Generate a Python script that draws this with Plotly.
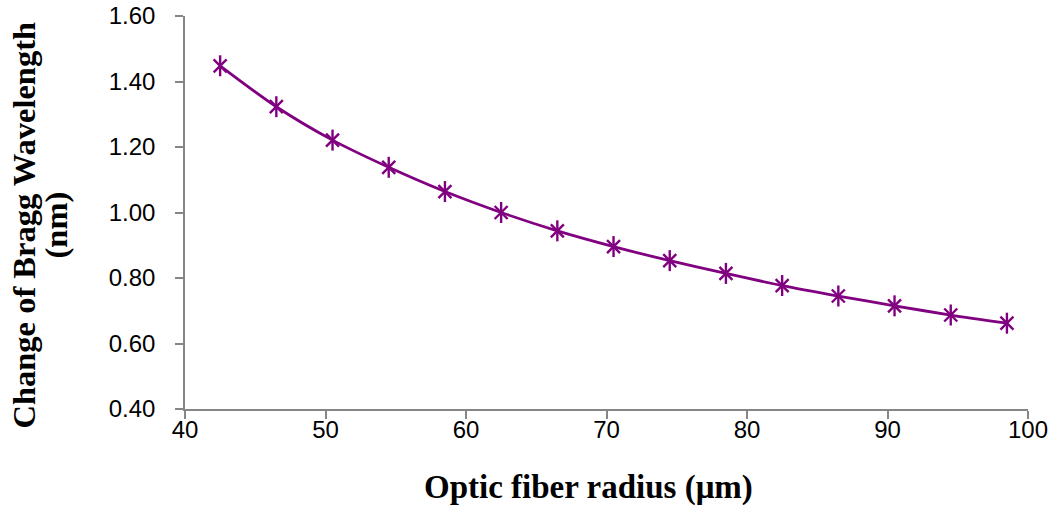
import plotly.graph_objects as go

# Fiber radius (μm) and the resulting Bragg wavelength shift (nm)
radius_um = [42.5, 46.5, 50.5, 54.5, 58.5, 62.5, 66.5, 70.5, 74.5, 78.5,
             82.5, 86.5, 90.5, 94.5, 98.5]
bragg_shift_nm = [1.448, 1.323, 1.221, 1.138, 1.064, 1.000, 0.944, 0.896,
                  0.853, 0.814, 0.777, 0.745, 0.715, 0.687, 0.662]

x_ticks = [40, 50, 60, 70, 80, 90, 100]
y_ticks = [0.40, 0.60, 0.80, 1.00, 1.20, 1.40, 1.60]

x_title = "Optic fiber radius (μm)"
y_title_lines = ["Change of Bragg Wavelength", "(nm)"]

purple = "#800080"
axis_grey = "#868686"

fig = go.Figure()
# Smoothed curve with the diagonal strokes of the star marker
fig.add_trace(
    go.Scatter(
        x=radius_um,
        y=bragg_shift_nm,
        mode="lines+markers",
        line=dict(color=purple, width=2.8, shape="spline", smoothing=0.8),
        marker=dict(symbol="x-thin-open", size=13, color=purple,
                    line=dict(color=purple, width=2.4)),
        showlegend=False,
    )
)
# Vertical stroke completing the six-armed star marker
fig.add_trace(
    go.Scatter(
        x=radius_um,
        y=bragg_shift_nm,
        mode="markers",
        marker=dict(symbol="line-ns-open", size=15, color=purple,
                    line=dict(color=purple, width=2.4)),
        showlegend=False,
        hoverinfo="skip",
    )
)

tick_font = dict(family="Liberation Sans, Arial, sans-serif", size=24, color="#000")
title_font = dict(family="Liberation Serif, Times New Roman, serif", size=33, color="#000")
y_title_font = dict(title_font, size=32.5)

axis_style = dict(
    automargin=False,
    showgrid=False,
    zeroline=False,
    showline=True,
    linecolor=axis_grey,
    linewidth=1.5,
    ticks="outside",
    ticklen=8,
    tickcolor=axis_grey,
    tickwidth=1.5,
    tickfont=tick_font,
)

fig.update_layout(
    width=1054,
    height=512,
    margin=dict(l=185, r=26, t=16, b=103, autoexpand=False),
    paper_bgcolor="white",
    plot_bgcolor="white",
    xaxis=dict(
        range=[40, 100],
        tickvals=x_ticks,
        ticktext=[str(v) for v in x_ticks],
        ticklabelstandoff=-10,
        **axis_style,
    ),
    yaxis=dict(
        range=[0.40, 1.60],
        tickvals=y_ticks,
        ticktext=[f"{v:.2f}" for v in y_ticks],
        ticklabelstandoff=15,
        **axis_style,
    ),
)

# Axis titles, placed as annotations for tight control of the two-line y title
fig.add_annotation(
    text=f"<b>{x_title}</b>", font=title_font, showarrow=False,
    xref="paper", yref="paper", x=0.5, y=0, xanchor="center", yanchor="middle",
    xshift=-18, yshift=-78,
)
for line_text, px_shift in zip(y_title_lines, [-162, -130]):
    fig.add_annotation(
        text=f"<b>{line_text}</b>", font=y_title_font, showarrow=False,
        textangle=-90, xref="paper", yref="paper", x=0, y=0.5,
        xanchor="center", yanchor="middle", xshift=px_shift, yshift=-13,
    )

fig.write_html("out.html")
